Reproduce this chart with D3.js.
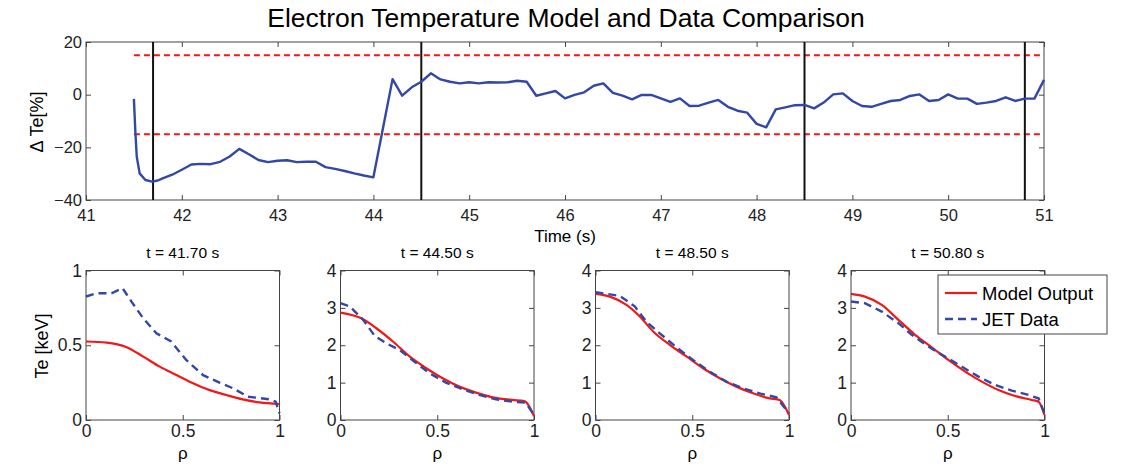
<!DOCTYPE html>
<html>
<head>
<meta charset="utf-8">
<script src="https://cdn.jsdelivr.net/npm/d3@7"></script>
<style>
  body { margin: 0; background: #fff; }
  svg { display: block; font-family: "Liberation Sans", Arial, sans-serif; }
  .tick line { stroke: #444; }
  .tick text { fill: #222; }
</style>
</head>
<body>
<script>
// top panel: relative Te difference vs time
var times = [41.5, 41.515, 41.53, 41.56, 41.62, 41.69, 41.75, 41.8, 41.9, 42.0, 42.1, 42.2, 42.3, 42.4, 42.5,
    42.6, 42.7, 42.8, 42.9, 43.0, 43.1, 43.2, 43.3, 43.4, 43.5, 43.6, 43.7, 43.8, 43.9, 44.0,
    44.2, 44.3, 44.4, 44.5, 44.6, 44.7, 44.8, 44.9, 45.0, 45.1, 45.2, 45.3, 45.4, 45.5, 45.6,
    45.7, 45.8, 45.9, 46.0, 46.1, 46.2, 46.3, 46.4, 46.5, 46.6, 46.7, 46.8, 46.9, 47.0, 47.1,
    47.2, 47.3, 47.4, 47.5, 47.6, 47.7, 47.8, 47.9, 48.0, 48.1, 48.2, 48.3, 48.4, 48.5, 48.6,
    48.7, 48.8, 48.9, 49.0, 49.1, 49.2, 49.3, 49.4, 49.5, 49.6, 49.7, 49.8, 49.9, 50.0, 50.1,
    50.2, 50.3, 50.4, 50.5, 50.6, 50.7, 50.8, 50.9, 51.0];
var dTe = [-1.6, -14, -23.6, -29.9, -32.4, -33, -32.6, -31.8, -30.4, -28.5, -26.5, -26.3, -26.4, -25.5, -23.5,
    -20.6, -22.6, -24.8, -25.6, -25.1, -24.9, -25.6, -25.5, -25.5, -27.5, -28.2, -29.0, -29.9, -30.7, -31.4,
    5.9, -0.4, 2.8, 4.9, 8.1, 5.8, 4.9, 4.3, 4.7, 4.3, 4.7, 4.6, 4.7, 5.3, 4.9,
    -0.4, 0.5, 1.4, -1.4, -0.1, 0.9, 3.4, 4.3, 0.7, -0.4, -1.8, -0.1, -0.1, -1.4, -2.7,
    -1.4, -4.3, -4.2, -3.0, -2.0, -4.6, -6.1, -6.8, -11.1, -12.4, -5.6, -4.8, -4.0, -3.9, -5.2,
    -3.0, 0.1, 0.5, -2.4, -4.3, -4.6, -3.5, -2.4, -2.0, -0.5, 0.1, -2.4, -2.0, 0.1, -1.5,
    -1.5, -3.5, -3.0, -2.4, -1.0, -2.4, -1.5, -1.5, 5.6];
var bandLimits = [15, -15];
var bandRange = [41.5, 51];
var snapTimes = [41.7, 44.5, 48.5, 50.8];

// bottom panels: Te profiles at the snapshot times
var panelTitles = ["t = 41.70 s", "t = 44.50 s", "t = 48.50 s", "t = 50.80 s"];
var panelYmax = [1, 4, 4, 4];
var panelYticks = [[0, 0.5, 1], [0, 1, 2, 3, 4], [0, 1, 2, 3, 4], [0, 1, 2, 3, 4]];
var rhoTicks = [0, 0.5, 1];

var modelRho = [
    [0, 0.107, 0.21, 0.296, 0.381, 0.467, 0.553, 0.639, 0.725, 0.81, 0.897, 1],
    [0, 0.108, 0.185, 0.271, 0.357, 0.443, 0.528, 0.614, 0.7, 0.786, 0.888, 0.949, 1],
    [0, 0.074, 0.16, 0.229, 0.298, 0.384, 0.47, 0.556, 0.642, 0.728, 0.814, 0.9, 0.952, 1],
    [0, 0.072, 0.159, 0.245, 0.331, 0.417, 0.503, 0.59, 0.676, 0.762, 0.848, 0.934, 0.969, 1]
];
var modelTe = [
    [0.525, 0.518, 0.487, 0.424, 0.357, 0.301, 0.246, 0.2, 0.167, 0.138, 0.118, 0.107],
    [2.875, 2.72, 2.455, 2.1, 1.70, 1.384, 1.116, 0.893, 0.732, 0.607, 0.536, 0.509, 0.107],
    [3.375, 3.30, 3.08, 2.77, 2.37, 2.01, 1.70, 1.384, 1.116, 0.893, 0.714, 0.58, 0.536, 0.134],
    [3.375, 3.30, 3.08, 2.68, 2.28, 1.946, 1.607, 1.295, 1.027, 0.804, 0.643, 0.536, 0.49, 0.134]
];
var jetRho = [
    [0, 0.055, 0.132, 0.189, 0.235, 0.296, 0.364, 0.44, 0.519, 0.605, 0.69, 0.76, 0.837, 0.948, 0.98, 1],
    [0, 0.048, 0.117, 0.177, 0.237, 0.305, 0.383, 0.46, 0.545, 0.631, 0.717, 0.803, 0.888, 0.957, 1],
    [0, 0.126, 0.203, 0.263, 0.332, 0.418, 0.504, 0.59, 0.676, 0.762, 0.848, 0.935, 1],
    [0, 0.072, 0.159, 0.245, 0.314, 0.4, 0.486, 0.572, 0.659, 0.745, 0.831, 0.917, 0.969, 1]
];
var jetTe = [
    [0.826, 0.848, 0.848, 0.882, 0.792, 0.68, 0.58, 0.525, 0.40, 0.30, 0.25, 0.212, 0.156, 0.138, 0.123, 0.045],
    [3.125, 3.04, 2.68, 2.25, 2.05, 1.875, 1.56, 1.25, 1.0, 0.82, 0.67, 0.554, 0.49, 0.464, 0.134],
    [3.42, 3.32, 3.04, 2.63, 2.32, 1.946, 1.607, 1.295, 1.027, 0.848, 0.714, 0.607, 0.179],
    [3.17, 3.125, 2.90, 2.59, 2.28, 1.964, 1.696, 1.43, 1.16, 0.9375, 0.786, 0.67, 0.58, 0.179]
];
var legendLabels = ["Model Output", "JET Data"];

var W = 1133, H = 467;
var red = "#f01818", blue = "#3347a6", boxColor = "#444";

var svg = d3.select("body").append("svg")
    .attr("width", W)
    .attr("height", H);

svg.append("rect").attr("width", W).attr("height", H).attr("fill", "#fff");

svg.append("text")
    .attr("x", 566).attr("y", 27)
    .attr("text-anchor", "middle")
    .style("font-size", "26.5px")
    .text("Electron Temperature Model and Data Comparison");

// draws a MATLAB style box: ticks inside, mirrored on top and right
function drawBox(g, x, y, xTicks, yTicks, xFmt, yFmt, fontSize, xPad, yPad) {
    var x0 = x.range()[0], x1 = x.range()[1], y0 = y.range()[0], y1 = y.range()[1];
    g.append("g")
        .attr("transform", "translate(0," + y0 + ")")
        .call(d3.axisBottom(x).tickValues(xTicks).tickFormat(xFmt).tickSizeInner(-5).tickSizeOuter(0).tickPadding(xPad))
        .call(a => a.select(".domain").remove())
        .selectAll("text").style("font-size", fontSize + "px");
    g.append("g")
        .attr("transform", "translate(0," + y1 + ")")
        .call(d3.axisTop(x).tickValues(xTicks).tickFormat("").tickSizeInner(-5).tickSizeOuter(0))
        .call(a => a.select(".domain").remove());
    g.append("g")
        .attr("transform", "translate(" + x0 + ",0)")
        .call(d3.axisLeft(y).tickValues(yTicks).tickFormat(yFmt).tickSizeInner(-5).tickSizeOuter(0).tickPadding(yPad))
        .call(a => a.select(".domain").remove())
        .selectAll("text").style("font-size", fontSize + "px");
    g.append("g")
        .attr("transform", "translate(" + x1 + ",0)")
        .call(d3.axisRight(y).tickValues(yTicks).tickFormat("").tickSizeInner(-5).tickSizeOuter(0))
        .call(a => a.select(".domain").remove());
    g.append("rect")
        .attr("x", x0).attr("y", y1)
        .attr("width", x1 - x0).attr("height", y0 - y1)
        .attr("fill", "none")
        .attr("stroke", boxColor)
        .attr("stroke-width", 1);
}

// ---- top panel
var xTop = d3.scaleLinear().domain([41, 51]).range([86, 1044]);
var yTop = d3.scaleLinear().domain([-40, 20]).range([200, 42]);
var topG = svg.append("g");

drawBox(topG, xTop, yTop, d3.range(41, 52), [-40, -20, 0, 20], d3.format("d"),
    d => d < 0 ? "\u2212" + Math.abs(d) : d, 16.5, 9, 4);

topG.selectAll(".band")
    .data(bandLimits)
    .enter().append("line")
        .attr("class", "band")
        .attr("x1", xTop(bandRange[0])).attr("x2", xTop(bandRange[1]))
        .attr("y1", d => yTop(d)).attr("y2", d => yTop(d))
        .attr("stroke", red)
        .attr("stroke-width", 2)
        .attr("stroke-dasharray", "6,4");

topG.selectAll(".snap")
    .data(snapTimes)
    .enter().append("line")
        .attr("class", "snap")
        .attr("x1", d => xTop(d)).attr("x2", d => xTop(d))
        .attr("y1", yTop(20)).attr("y2", yTop(-40))
        .attr("stroke", "#111")
        .attr("stroke-width", 2);

var topData = times.map((t, i) => [t, dTe[i]]);
topG.append("path")
    .datum(topData)
    .attr("fill", "none")
    .attr("stroke", blue)
    .attr("stroke-width", 2.4)
    .attr("stroke-linejoin", "round")
    .attr("d", d3.line().x(d => xTop(d[0])).y(d => yTop(d[1])));

svg.append("text")
    .attr("x", 565).attr("y", 242)
    .attr("text-anchor", "middle")
    .style("font-size", "17px")
    .text("Time (s)");

svg.append("text")
    .attr("transform", "translate(43,122) rotate(-90)")
    .attr("text-anchor", "middle")
    .style("font-size", "18px")
    .text("\u0394 Te[%]");

// ---- bottom panels
var panelLeft = [86, 340.5, 595.5, 851];
var panelWidth = 193.5;
var fmtY = d => d === 0.5 ? "0.5" : d3.format("d")(d);
var fmtX = d => d === 0.5 ? "0.5" : d3.format("d")(d);

panelTitles.forEach(function(title, p) {
    var x = d3.scaleLinear().domain([0, 1]).range([panelLeft[p], panelLeft[p] + panelWidth]);
    var y = d3.scaleLinear().domain([0, panelYmax[p]]).range([420, 270.5]);
    var g = svg.append("g");

    drawBox(g, x, y, rhoTicks, panelYticks[p], fmtX, fmtY, 17.5, 5, 4);

    var modelData = modelRho[p].map((r, i) => [r, modelTe[p][i]]);
    var jetData = jetRho[p].map((r, i) => [r, jetTe[p][i]]);

    g.append("path")
        .datum(modelData)
        .attr("fill", "none")
        .attr("stroke", red)
        .attr("stroke-width", 2.2)
        .attr("d", d3.line().curve(d3.curveMonotoneX).x(d => x(d[0])).y(d => y(d[1])));

    g.append("path")
        .datum(jetData)
        .attr("fill", "none")
        .attr("stroke", blue)
        .attr("stroke-width", 2.4)
        .attr("stroke-dasharray", "8,5")
        .attr("d", d3.line().x(d => x(d[0])).y(d => y(d[1])));

    g.append("text")
        .attr("x", (x.range()[0] + x.range()[1]) / 2).attr("y", 258)
        .attr("text-anchor", "middle")
        .style("font-size", "15.5px")
        .text(title);

    g.append("text")
        .attr("x", (x.range()[0] + x.range()[1]) / 2).attr("y", 459)
        .attr("text-anchor", "middle")
        .style("font-size", "17px")
        .text("\u03c1");
});

svg.append("text")
    .attr("transform", "translate(48,346) rotate(-90)")
    .attr("text-anchor", "middle")
    .style("font-size", "18px")
    .text("Te [keV]");

// legend (sits over the last panel)
var legend = svg.append("g").attr("transform", "translate(938,275)");
legend.append("rect")
    .attr("width", 169).attr("height", 59)
    .attr("fill", "#fff")
    .attr("stroke", boxColor);
legend.selectAll(".item")
    .data(legendLabels)
    .enter().append("g")
        .attr("class", "item")
        .attr("transform", (d, i) => "translate(0," + (18 + i * 26) + ")")
        .each(function(d, i) {
            var it = d3.select(this);
            it.append("line")
                .attr("x1", 7).attr("x2", 39)
                .attr("stroke", i === 0 ? red : blue)
                .attr("stroke-width", i === 0 ? 2.2 : 2.4)
                .attr("stroke-dasharray", i === 0 ? null : "8,5");
            it.append("text")
                .attr("x", 44).attr("y", 6.5)
                .style("font-size", "18.5px")
                .text(d);
        });
</script>
</body>
</html>
